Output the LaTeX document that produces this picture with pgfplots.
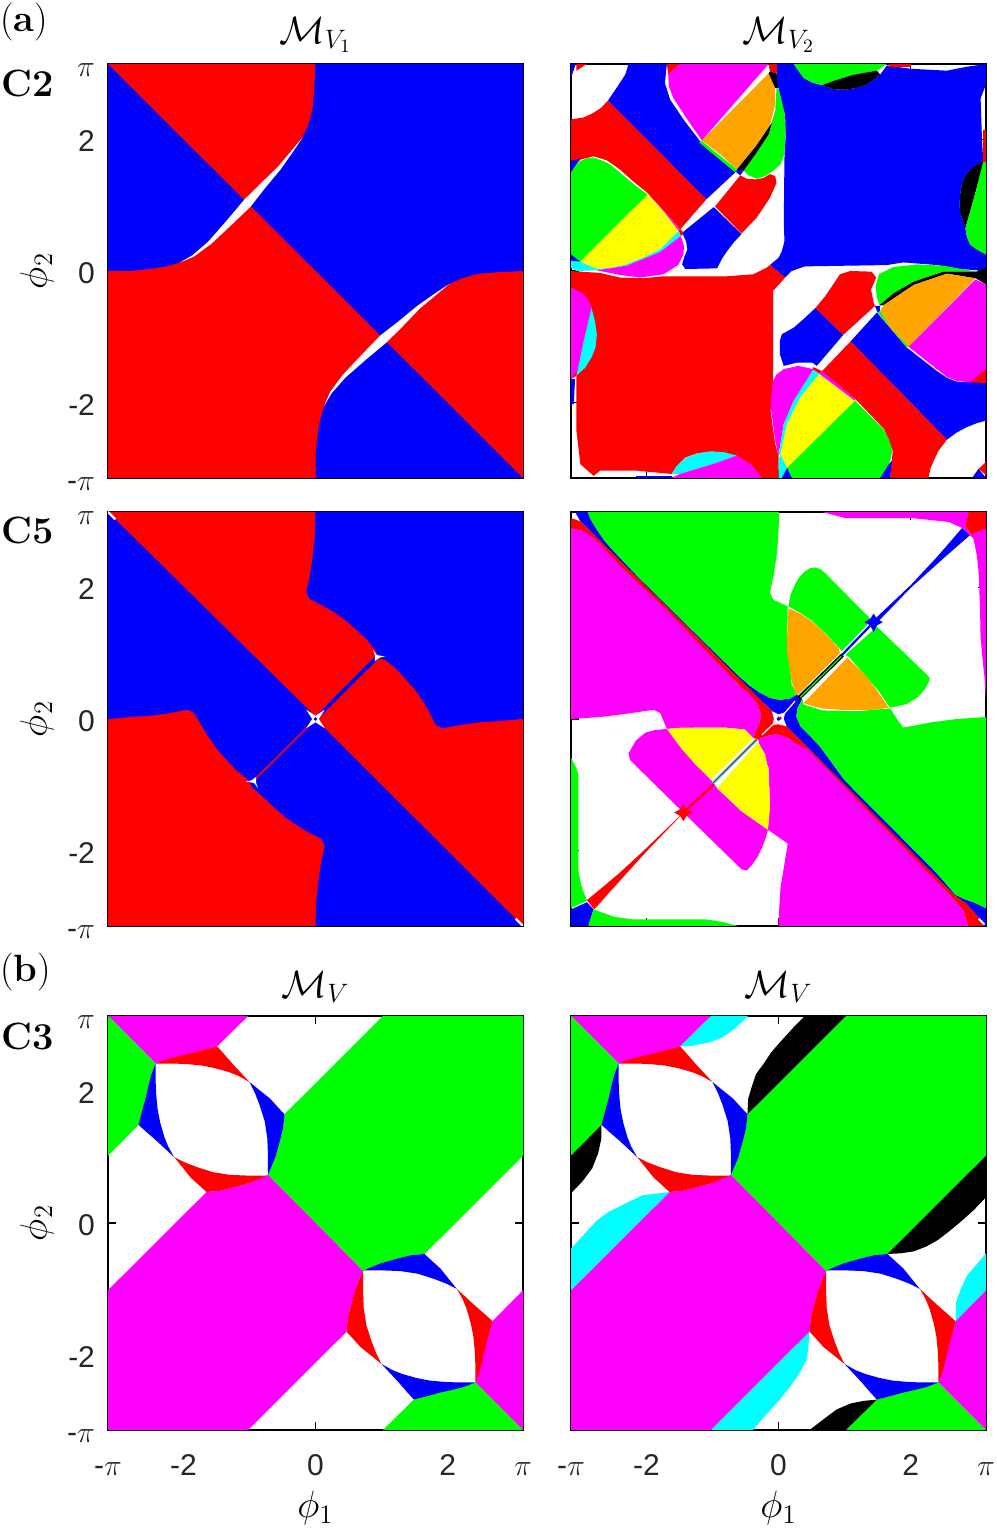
\RequirePackage{fix-cm}
\documentclass[border=0pt]{standalone}
\usepackage{fontspec}
\usepackage{pgfplots}
\pgfplotsset{compat=1.18}
\newfontfamily\sff{Liberation Sans}
\definecolor{mred}{HTML}{FF0000}
\definecolor{mblue}{HTML}{0000FF}
\definecolor{mgreen}{HTML}{00FF00}
\definecolor{mmag}{HTML}{FF00FF}
\definecolor{mcyan}{HTML}{00FFFF}
\definecolor{myel}{HTML}{FFFF00}
\definecolor{morg}{HTML}{FFA500}
\definecolor{mblk}{HTML}{000000}
\definecolor{mwht}{HTML}{FFFFFF}
\definecolor{tickgray}{HTML}{262626}
\newcommand{\tickfont}{\sff\fontsize{15}{18}\selectfont}
\newcommand{\labfont}{\fontsize{19}{22}\selectfont}
\pgfplotsset{
  reg/.style={fill=#1,draw=none,mark=none,forget plot},
  lin/.style 2 args={draw=#1,line width=#2,mark=none,forget plot},
  panel/.style={
    scale only axis,width=207.5pt,height=207pt,anchor=south west,
    xmin=-3.1416,xmax=3.1416,ymin=-3.1416,ymax=3.1416,
    xtick={-3.1416,-2,0,2,3.1416},ytick={-3.1416,-2,0,2,3.1416},
    xticklabels={},yticklabels={},
    tick align=inside,major tick length=4pt,
    tick style={black,line width=0.6pt},
    axis line style={black,line width=1.25pt},
    tick label style={font=\tickfont,text=tickgray},
    xticklabel style={yshift=-8.5pt},
    yticklabel style={xshift=-3pt,yshift=-1pt},
    every axis title/.style={at={(axis description cs:0.5,1.07)},anchor=center,font=\labfont},
    every axis x label/.style={at={(axis description cs:0.5,-0.188)},anchor=center,font=\labfont},
    every axis y label/.style={at={(axis description cs:-0.171,0.5)},anchor=center,rotate=90,font=\labfont},
  },
  xlab/.style={xticklabels={-$\pi$\vphantom{2},-2,0,2,$\pi$\vphantom{2}},xlabel={$\phi_1$}},
  ylab/.style={yticklabels={-$\pi$\vphantom{2},-2,0,2,$\pi$\vphantom{2}},ylabel={$\phi_2$}},
}
% regions shared by both C3 panels
\newcommand{\cthree}{
  \addplot[reg=mgreen] coordinates {(-.47,1.65)(1.02,3.1416)(3.1416,3.1416)(3.1416,1.02)(1.65,-.47)(1.44,-.49)(1.24,-.54)(.99,-.61)(.72,-.73)(-.72,.73)(-.61,.99)(-.54,1.24)(-.49,1.44)};
  \addplot[reg=mmag] coordinates {(-1.65,.47)(-3.1416,-1.02)(-3.1416,-3.1416)(-1.02,-3.1416)(.47,-1.65)(.49,-1.44)(.54,-1.24)(.61,-.99)(.72,-.73)(-.72,.73)(-.99,.61)(-1.24,.54)(-1.44,.49)};
  \addplot[reg=mmag] coordinates {(-3.1416,3.1416)(-1.02,3.1416)(-1.49,2.68)(-2.42,2.42)};
  \addplot[reg=mgreen] coordinates {(-3.1416,3.1416)(-2.42,2.42)(-2.68,1.49)(-3.1416,1.02)};
  \addplot[reg=mmag] coordinates {(3.1416,-3.1416)(3.1416,-1.02)(2.68,-1.49)(2.42,-2.42)};
  \addplot[reg=mgreen] coordinates {(3.1416,-3.1416)(1.02,-3.1416)(1.49,-2.68)(2.42,-2.42)};
  \addplot[reg=mred] coordinates {(-2.42,2.42)(-2.24,2.49)(-2.08,2.53)(-1.90,2.57)(-1.72,2.62)(-1.49,2.68)(-1.39,2.57)(-1.26,2.42)(-1.13,2.28)(-1.0,2.14)(-1.16,2.23)(-1.31,2.29)(-1.52,2.35)(-1.72,2.39)(-1.93,2.41)(-2.14,2.42)};
  \addplot[reg=mblue] coordinates {(-1.0,2.14)(-.84,2.01)(-.69,1.89)(-.59,1.78)(-.47,1.65)(-.49,1.44)(-.54,1.24)(-.61,.99)(-.72,.73)(-.72,1.04)(-.73,1.29)(-.77,1.55)(-.85,1.8)(-.92,1.98)};
  \addplot[reg=mblue] coordinates {(-2.42,2.42)(-2.49,2.24)(-2.53,2.08)(-2.57,1.90)(-2.62,1.72)(-2.68,1.49)(-2.57,1.39)(-2.42,1.26)(-2.28,1.13)(-2.14,1.0)(-2.23,1.16)(-2.29,1.31)(-2.35,1.52)(-2.39,1.72)(-2.41,1.93)(-2.42,2.14)};
  \addplot[reg=mred] coordinates {(-2.14,1.0)(-2.01,.84)(-1.89,.69)(-1.78,.59)(-1.65,.47)(-1.44,.49)(-1.24,.54)(-.99,.61)(-.73,.72)(-1.04,.72)(-1.29,.73)(-1.55,.77)(-1.8,.85)(-1.98,.92)};
  \addplot[reg=mblue] coordinates {(2.42,-2.42)(2.24,-2.49)(2.08,-2.53)(1.90,-2.57)(1.72,-2.62)(1.49,-2.68)(1.39,-2.57)(1.26,-2.42)(1.13,-2.28)(1.0,-2.14)(1.16,-2.23)(1.31,-2.29)(1.52,-2.35)(1.72,-2.39)(1.93,-2.41)(2.14,-2.42)};
  \addplot[reg=mred] coordinates {(1.0,-2.14)(.84,-2.01)(.69,-1.89)(.59,-1.78)(.47,-1.65)(.49,-1.44)(.54,-1.24)(.61,-.99)(.72,-.73)(.72,-1.04)(.73,-1.29)(.77,-1.55)(.85,-1.8)(.92,-1.98)};
  \addplot[reg=mred] coordinates {(2.42,-2.42)(2.49,-2.24)(2.53,-2.08)(2.57,-1.90)(2.62,-1.72)(2.68,-1.49)(2.57,-1.39)(2.42,-1.26)(2.28,-1.13)(2.14,-1.0)(2.23,-1.16)(2.29,-1.31)(2.35,-1.52)(2.39,-1.72)(2.41,-1.93)(2.42,-2.14)};
  \addplot[reg=mblue] coordinates {(2.14,-1.0)(2.01,-.84)(1.89,-.69)(1.78,-.59)(1.65,-.47)(1.44,-.49)(1.24,-.54)(.99,-.61)(.73,-.72)(1.04,-.72)(1.29,-.73)(1.55,-.77)(1.8,-.85)(1.98,-.92)};
}
\begin{document}
\begin{tikzpicture}
\path[use as bounding box] (0pt,0pt) rectangle (498.5pt,764pt);

% ---- C2, M_V1
\begin{axis}[panel,ylab,at={(54pt,525pt)},title={$\mathcal{M}_{V_1}$}]
\addplot[reg=mblue] coordinates {(-3.1416,-3.1416)(3.1416,-3.1416)(3.1416,3.1416)(-3.1416,3.1416)};
\addplot[reg=mred] coordinates {(-3.1416,3.1416)(0,3.1416)(-.02,2.75)(-.04,2.5)(-.07,2.35)(-.12,2.2)(-.2,2.02)(-.35,1.82)(-.55,1.56)(-.8,1.28)(-1.03,1.03)};
\addplot[reg=mred] coordinates {(3.1416,-3.1416)(3.1416,0)(2.75,-.02)(2.5,-.04)(2.35,-.07)(2.2,-.12)(2.02,-.2)(1.82,-.35)(1.56,-.55)(1.28,-.8)(1.03,-1.03)};
\addplot[reg=mred] coordinates {(-3.1416,-3.1416)(-3.1416,0)(-2.8,0)(-2.5,.03)(-2.25,.07)(-2.05,.13)(-1.85,.23)(-1.6,.43)(-1.3,.73)(-1.03,1.03)(1.03,-1.03)(.73,-1.3)(.43,-1.6)(.23,-1.85)(.13,-2.05)(.07,-2.25)(.03,-2.5)(0,-2.8)(0,-3.1416)};
\addplot[reg=mwht] coordinates {(-2.05,.13)(-1.86,.24)(-1.62,.45)(-1.34,.77)(-1.08,1.08)(-.84,1.32)(-.57,1.58)(-.36,1.83)(-.2,2.02)(-.34,1.81)(-.53,1.54)(-.77,1.25)(-.98,.98)(-1.27,.70)(-1.58,.41)(-1.84,.22)};
\addplot[reg=mwht] coordinates {(.13,-2.05)(.24,-1.86)(.45,-1.62)(.77,-1.34)(1.08,-1.08)(1.32,-.84)(1.58,-.57)(1.83,-.36)(2.02,-.2)(1.81,-.34)(1.54,-.53)(1.25,-.77)(.98,-.98)(.70,-1.27)(.41,-1.58)(.22,-1.84)};
\end{axis}

% ---- C2, M_V2
\begin{axis}[panel,at={(285.5pt,525pt)},title={$\mathcal{M}_{V_2}$}]
\addplot[reg=mblue] coordinates {(-3.1416,3.1416)(-3.07,3.1416)(-3.1416,2.93)};
\addplot[reg=mred] coordinates {(-3.06,3.1416)(-2.9,3.1416)(-3.06,3.04)};
\addplot[reg=mred] coordinates {(-3.1416,2.30)(-2.95,2.33)(-2.80,2.40)(-2.68,2.48)(-2.58,2.59)(-1.09,1.09)(-1.49,.63)(-1.64,.81)(-1.82,1.0)(-1.99,1.19)(-2.2,1.36)(-2.40,1.54)(-2.6,1.68)(-2.80,1.74)(-3.0,1.69)(-3.1416,1.54)};
\addplot[reg=mblue] coordinates {(-2.27,3.1416)(-1.69,3.1416)(-1.72,2.85)(-1.64,2.60)(-1.44,2.30)(-1.18,1.96)(-.63,1.52)(-1.09,1.09)(-2.58,2.59)(-2.45,2.78)(-2.32,2.98)};
\addplot[reg=mred] coordinates {(-1.69,3.1416)(-1.49,3.1416)(-1.67,2.98)};
\addplot[reg=mmag] coordinates {(-1.49,3.1416)(-.15,3.1416)(-1.16,1.98)(-1.40,2.33)(-1.59,2.62)(-1.66,2.80)(-1.67,2.98)};
\addplot[reg=morg] coordinates {(-1.16,1.98)(-.15,3.0)(-.05,2.78)(-.05,2.53)(-.13,2.2)(-.33,1.92)(-.63,1.54)(-.88,1.77)};
\addplot[reg=mgreen] coordinates {(-1.17,1.98)(-.63,1.54)(-.66,1.50)(-1.2,1.95)};
\addplot[reg=mred] coordinates {(-.15,3.1416)(0,3.1416)(-.03,3.0)(-.13,3.03)};
\addplot[reg=mblk] coordinates {(-.13,3.03)(-.03,3.0)(0,2.78)(-.05,2.78)(-.15,3.0)};
\addplot[reg=mgreen] coordinates {(-.03,2.78)(.03,2.73)(.09,2.42)(.11,2.17)(.10,1.97)(.09,1.77)(.03,1.62)(-.08,1.52)(-.2,1.44)(-.33,1.40)(-.45,1.45)(-.53,1.52)(-.35,1.77)(-.15,2.07)(-.05,2.42)};
\addplot[reg=mblk] coordinates {(-.63,1.54)(-.33,1.91)(-.10,2.25)(-.05,2.42)(-.15,2.07)(-.35,1.77)(-.53,1.52)};
\addplot[reg=mblue] coordinates {(-.63,1.54)(-.53,1.52)(-.58,1.45)(-.64,1.50)};
\addplot[reg=mred] coordinates {(-.96,.98)(-.58,1.45)(-.48,1.40)(-.35,1.39)(-.23,1.41)(-.13,1.47)(-.05,1.44)(-.03,1.34)(-.13,1.11)(-.33,.81)(-.56,.57)};
\addplot[reg=mblue] coordinates {(-.98,.97)(-.56,.56)(-.68,.43)(-.78,.30)(-.86,.18)(-.93,.04)(-1.41,.03)(-1.46,.10)(-1.43,.2)(-1.38,.33)(-1.40,.45)(-1.46,.58)};
\addplot[reg=mgreen] coordinates {(-3.1416,1.54)(-3.0,1.67)(-2.90,1.71)(-2.8,1.72)(-2.68,1.68)(-2.55,1.62)(-2.35,1.45)(-2.17,1.30)(-1.98,1.16)(-3.0,.14)(-3.1416,.25)};
\addplot[reg=mblue] coordinates {(-3.1416,1.67)(-3.0,1.71)(-3.1416,1.50)};
\addplot[reg=myel] coordinates {(-1.98,1.16)(-1.74,.91)(-1.51,.61)(-1.64,.48)(-1.79,.33)(-2.05,.2)(-2.30,.10)(-2.52,.05)(-2.75,.03)(-3.0,.14)};
\addplot[reg=mmag] coordinates {(-1.98,1.19)(-1.64,.81)(-1.49,.62)(-1.51,.61)(-1.74,.91)};
\addplot[reg=mred] coordinates {(-1.51,.61)(-1.49,.64)(-1.43,.57)(-1.48,.53)};
\addplot[reg=mcyan] coordinates {(-1.51,.61)(-1.48,.53)(-1.79,.29)(-2.30,.08)(-2.75,.01)(-3.06,0)(-3.1416,.05)(-3.1416,.16)(-3.0,.14)(-2.75,.03)(-2.52,.05)(-2.30,.10)(-2.05,.2)(-1.79,.33)(-1.64,.48)};
\addplot[reg=mblue] coordinates {(-3.1416,.16)(-3.1416,.25)(-3.0,.14)};
\addplot[reg=mmag] coordinates {(-1.48,.53)(-1.43,.38)(-1.44,.25)(-1.52,.09)(-1.74,-.05)(-2.10,-.10)(-2.40,-.06)(-2.75,.01)(-2.30,.08)(-1.79,.29)};
% big blue square
\addplot[reg=mblue] coordinates {(-.02,3.1416)(.23,3.1416)(.38,2.93)(.51,2.86)(.66,2.82)(.83,2.76)(1.01,2.75)(1.19,2.78)(1.34,2.83)(1.46,2.92)(1.54,2.98)(1.64,3.12)(1.99,3.07)(2.55,3.04)(2.85,3.10)(3.1416,3.1416)(3.1416,2.83)(3.06,2.62)(3.08,2.02)(3.1,1.66)(2.98,1.6)(2.9,1.54)(2.83,1.44)(2.78,1.33)(2.75,1.16)(2.74,1.01)(2.75,.88)(2.78,.80)(2.83,.65)(2.85,.53)(2.9,.40)(3.0,.33)(3.1416,.25)(3.1416,0)(2.75,.03)(2.4,.09)(1.89,.13)(1.64,.09)(.40,.07)(.2,0)(.10,-.10)(-.13,.09)(0,.2)(.05,.3)(.09,.45)(.08,.75)(.09,1.71)(.11,2.07)(.10,2.37)(.03,2.67)(-.02,2.85)};
\addplot[reg=mgreen] coordinates {(.23,3.1416)(1.64,3.1416)(1.49,3.04)(1.14,2.98)(.88,2.90)(.66,2.82)(.51,2.86)(.38,2.93)};
\addplot[reg=mblk] coordinates {(.66,2.82)(.88,2.9)(1.14,2.98)(1.49,3.04)(1.54,2.98)(1.46,2.92)(1.34,2.83)(1.19,2.78)(1.01,2.75)(.83,2.76)};
\addplot[reg=mred] coordinates {(1.67,3.1416)(2.0,3.1416)(2.0,3.1)(1.67,3.1)};
\addplot[reg=mblk] coordinates {(3.1,1.66)(2.98,1.6)(2.9,1.54)(2.83,1.44)(2.78,1.33)(2.75,1.16)(2.74,1.01)(2.75,.88)(2.78,.8)(2.83,.65)(2.96,1.11)(3.1,1.61)};
\addplot[reg=mgreen] coordinates {(3.1,1.66)(3.1416,1.66)(3.1416,.25)(3.0,.33)(2.9,.40)(2.85,.53)(2.83,.65)(2.96,1.11)};
\addplot[reg=mred] coordinates {(3.1,2.14)(3.1416,2.14)(3.1416,1.66)(3.1,1.66)};
% big red square
\addplot[reg=mred] coordinates {(-3.1416,0)(-2.7,-.03)(-2.40,-.10)(-2.05,-.11)(-1.74,-.08)(-.78,-.08)(-.38,-.05)(-.18,.05)(-.13,.09)(.10,-.10)(-.08,-.30)(-.08,-1.62)(-.12,-2.12)(-.05,-2.63)(0,-2.8)(0,-3.1416)(-.25,-3.1416)(-.43,-2.93)(-.61,-2.82)(-.83,-2.75)(-1.04,-2.74)(-1.24,-2.77)(-1.41,-2.83)(-1.54,-2.96)(-1.62,-3.08)(-2.15,-3.03)(-2.70,-3.03)(-2.80,-3.11)(-3.0,-2.93)(-3.06,-2.42)(-3.06,-1.59)(-3.1416,-1.64)};
\addplot[reg=mmag] coordinates {(-3.1416,-.25)(-2.95,-.35)(-2.88,-.44)(-2.83,-.56)(-2.95,-1.06)(-3.05,-1.52)(-3.1416,-1.64)};
\addplot[reg=mcyan] coordinates {(-2.83,-.56)(-2.78,-.76)(-2.75,-.96)(-2.77,-1.16)(-2.83,-1.31)(-2.93,-1.47)(-3.06,-1.59)(-2.95,-1.06)};
\addplot[reg=mblue] coordinates {(-3.1416,-1.64)(-3.08,-1.64)(-3.1,-2.02)(-3.1416,-2.02)};
\addplot[reg=mcyan] coordinates {(-1.62,-3.08)(-1.54,-2.96)(-1.41,-2.84)(-1.24,-2.77)(-1.04,-2.74)(-.83,-2.75)(-.63,-2.8)(-.93,-2.91)(-1.49,-3.08)};
\addplot[reg=mmag] coordinates {(-1.62,-3.1416)(-1.49,-3.08)(-.93,-2.91)(-.63,-2.8)(-.43,-2.93)(-.25,-3.1416)};
\addplot[reg=mblue] coordinates {(-2.15,-3.1416)(-1.62,-3.1416)(-1.62,-3.11)(-2.15,-3.11)};
% lower right quadrant
\addplot[reg=mblue] coordinates {(.05,-.96)(.23,-.86)(.38,-.73)(.56,-.56)(.98,-.97)(.58,-1.44)(.51,-1.39)(.28,-1.39)(.08,-1.44)(.02,-1.26)(.02,-1.06)};
\addplot[reg=mred] coordinates {(.56,-.56)(.71,-.38)(.83,-.20)(.93,-.05)(1.09,0)(1.41,-.01)(1.48,-.10)(1.40,-.28)(1.44,-.48)(1.46,-.53)(.98,-.97)};
\addplot[reg=mblue] coordinates {(1.46,-.53)(1.54,-.53)(1.54,-.61)(1.5,-.63)};
\addplot[reg=mblue] coordinates {(1.09,-1.07)(1.49,-.63)(1.94,-1.16)(2.40,-1.52)(2.55,-1.62)(2.70,-1.68)(3.1416,-1.69)(3.1416,-2.27)(3.0,-2.31)(2.85,-2.37)(2.7,-2.45)(2.55,-2.56)};
\addplot[reg=mred] coordinates {(.66,-1.52)(1.09,-1.07)(2.55,-2.56)(2.42,-2.73)(2.35,-2.88)(2.3,-3.0)(2.27,-3.1416)(1.69,-3.1416)(1.73,-2.73)(1.60,-2.40)(1.16,-1.94)(.68,-1.54)};
\addplot[reg=mred] coordinates {(.53,-1.46)(.66,-1.52)(.62,-1.56)(.51,-1.5)};
\addplot[reg=mgreen] coordinates {(1.47,-.23)(1.52,-.05)(1.74,.06)(2.10,.10)(2.50,.08)(3.0,-.01)(2.5,-.01)(2.05,-.16)(1.74,-.34)(1.53,-.52)(1.49,-.40)};
\addplot[reg=mblk] coordinates {(1.53,-.52)(1.74,-.34)(2.05,-.16)(2.5,-.01)(3.0,-.01)(3.1,0)(2.98,-.11)(2.55,-.04)(2.05,-.21)(1.59,-.52)};
\addplot[reg=morg] coordinates {(1.59,-.52)(2.05,-.21)(2.55,-.04)(2.98,-.11)(1.97,-1.15)(1.69,-.86)(1.54,-.61)};
\addplot[reg=mgreen] coordinates {(1.5,-.63)(1.54,-.61)(1.69,-.86)(1.97,-1.15)(1.94,-1.16)};
\addplot[reg=mmag] coordinates {(2.98,-.13)(3.1416,-.2)(3.1416,-1.52)(2.90,-1.69)(2.70,-1.67)(2.55,-1.61)(2.40,-1.49)(1.97,-1.15)};
\addplot[reg=mred] coordinates {(2.9,-1.69)(3.1416,-1.49)(3.1416,-1.7)};
\addplot[reg=mblk] coordinates {(3.0,-.01)(3.1416,.05)(3.1416,-.2)(2.98,-.11)};
\addplot[reg=mmag] coordinates {(.53,-1.49)(.30,-1.44)(.08,-1.49)(-.03,-1.57)(-.08,-1.67)(-.10,-1.79)(-.11,-1.92)(-.11,-2.12)(-.09,-2.27)(-.05,-2.58)(0,-2.8)(.08,-2.32)(.23,-1.97)};
\addplot[reg=mcyan] coordinates {(.53,-1.5)(.62,-1.56)(.33,-1.92)(.13,-2.32)(.03,-2.78)(0,-2.8)(.08,-2.32)(.23,-1.97)};
\addplot[reg=myel] coordinates {(.62,-1.56)(1.16,-1.97)(.13,-2.99)(.03,-2.78)(.13,-2.32)(.33,-1.92)};
\addplot[reg=mmag] coordinates {(.66,-1.52)(1.16,-1.94)(1.16,-1.97)(.62,-1.56)};
\addplot[reg=mgreen] coordinates {(1.16,-1.97)(1.59,-2.40)(1.67,-2.55)(1.72,-2.73)(1.70,-2.85)(1.67,-2.93)(1.54,-3.1416)(.20,-3.1416)(.13,-2.99)};
\addplot[reg=mblue] coordinates {(1.67,-2.93)(1.72,-2.88)(1.69,-3.1416)(1.54,-3.1416)};
\addplot[reg=mcyan] coordinates {(.03,-2.78)(.13,-2.99)(.05,-3.1416)(0,-3.1416)(0,-2.88)};
\addplot[reg=mblue] coordinates {(.13,-2.99)(.2,-3.1416)(.05,-3.1416)};
\addplot[reg=mred] coordinates {(3.03,-3.0)(3.1416,-2.9)(3.1416,-3.1)};
\addplot[reg=mblue] coordinates {(2.93,-3.1416)(3.03,-3.0)(3.1416,-3.1416)};
\end{axis}

% ---- C5, M_V1
\begin{axis}[panel,ylab,at={(54pt,301pt)}]
\addplot[reg=mblue] coordinates {(-3.1416,-3.1416)(3.1416,-3.1416)(3.1416,3.1416)(-3.1416,3.1416)};
\addplot[reg=mred] coordinates {(-3.1416,3.1416)(0,3.1416)(-.01,2.8)(-.04,2.49)(-.08,2.2)(-.14,1.93)(-.09,1.82)(.09,1.73)(.26,1.63)(.45,1.5)(.62,1.35)(.78,1.2)(.9,1.05)(.93,.98)(.04,.08)(0,.04)};
\addplot[reg=mred] coordinates {(3.1416,-3.1416)(3.1416,0)(2.8,-.03)(2.49,-.05)(2.2,-.09)(1.93,-.14)(1.82,-.09)(1.73,.09)(1.63,.26)(1.5,.45)(1.35,.62)(1.2,.78)(1.05,.9)(.95,.91)(.06,.02)(.04,-.04)};
\addplot[reg=mred] coordinates {(-3.1416,-3.1416)(-3.1416,0)(-2.8,.03)(-2.49,.05)(-2.2,.09)(-1.93,.14)(-1.84,.09)(-1.73,-.09)(-1.63,-.26)(-1.5,-.45)(-1.35,-.62)(-1.2,-.78)(-1.05,-.9)(-.95,-1.05)(-.78,-1.2)(-.62,-1.35)(-.45,-1.5)(-.26,-1.63)(-.09,-1.73)(.09,-1.82)(.14,-1.93)(.08,-2.2)(.04,-2.49)(.01,-2.8)(0,-3.1416)};
\addplot[lin={mred}{0.8pt}] coordinates {(-.97,-.97)(0,0)};
\addplot[reg=mwht] coordinates {(-.14,.14)(0,.05)(.14,.14)(.05,0)(.14,-.14)(0,-.05)(-.14,-.14)(-.05,0)};
\addplot[reg=mblue] coordinates {(-.03,0)(0,.03)(.03,0)(0,-.03)};
\addplot[reg=mwht] coordinates {(.87,1.05)(.93,.97)(1.05,.95)(.97,.93)(.90,.88)(.90,.97)};
\addplot[reg=mwht] coordinates {(-.87,-1.05)(-.93,-.97)(-1.05,-.95)(-.97,-.93)(-.90,-.88)(-.90,-.97)};
\addplot[lin={mwht}{1.2pt}] coordinates {(-3.1416,3.1416)(-3.03,3.03)};
\addplot[lin={mwht}{1.2pt}] coordinates {(3.1416,-3.1416)(3.03,-3.03)};
\end{axis}

% ---- C5, M_V2
\begin{axis}[panel,at={(285.5pt,301pt)}]
\addplot[reg=mblue] coordinates {(-3.08,3.1416)(-2.89,3.1416)(-2.84,3.02)(-2.76,2.89)(-2.64,2.71)(-2.49,2.54)(-2.13,2.16)(-.60,.65)(-.43,.50)(-.28,.40)(-.13,.32)(.02,.29)(.17,.31)(.28,.37)(.36,.30)(.29,.17)(.27,.04)(.33,-.11)(.48,-.26)(.63,-.42)(1.0,-.93)(2.34,-2.28)(2.5,-2.46)(2.67,-2.66)(2.80,-2.73)(2.95,-2.78)(3.1416,-2.87)(3.1416,-3.1416)(3.1,-3.1416)(3.03,-3.01)(2.85,-2.81)(2.65,-2.66)(.12,-.11)(-.10,.12)(-3.0,3.0)};
\addplot[reg=mgreen] coordinates {(-2.89,3.1416)(.01,3.1416)(0,2.85)(-.02,2.54)(-.07,2.2)(-.13,1.92)(-.08,1.81)(.03,1.76)(.14,1.71)(.13,1.23)(.2,.52)(.28,.37)(.17,.31)(.02,.29)(-.13,.32)(-.28,.40)(-.43,.50)(-.60,.65)(-2.13,2.16)(-2.49,2.54)(-2.64,2.71)(-2.76,2.89)(-2.84,3.02)};
\addplot[reg=morg] coordinates {(.15,1.68)(.33,1.60)(.51,1.48)(.71,1.29)(.91,1.08)(.93,1.0)(.30,.37)(.25,.39)(.19,.62)(.16,.82)(.13,1.03)(.13,1.23)};
\addplot[reg=mgreen] coordinates {(.15,1.71)(.18,1.88)(.25,2.04)(.32,2.16)(.40,2.24)(.48,2.29)(.56,2.30)(.64,2.27)(.71,2.21)(1.41,1.5)(.96,1.03)(.91,1.09)(.71,1.30)(.51,1.49)(.33,1.61)};
\addplot[reg=mgreen] coordinates {(1.49,1.40)(2.25,.67)(2.29,.62)(2.28,.57)(2.22,.46)(2.12,.34)(1.95,.23)(1.69,.17)(1.52,.42)(1.06,.95)(1.01,.97)};
\addplot[reg=morg] coordinates {(1.04,.93)(1.31,.67)(1.50,.42)(1.67,.17)(1.45,.14)(1.21,.14)(.93,.14)(.66,.16)(.50,.20)(.38,.24)};
\addplot[reg=mgreen] coordinates {(.36,.30)(.38,.22)(.66,.13)(1.21,.12)(1.69,.16)(1.82,-.04)(1.89,-.13)(2.32,-.05)(2.7,0)(3.1416,.03)(3.1416,-2.87)(2.95,-2.78)(2.80,-2.73)(2.67,-2.66)(2.5,-2.46)(2.34,-2.28)(1.0,-.93)(.63,-.42)(.48,-.26)(.33,-.11)(.27,.04)(.29,.17)};
\addplot[lin={mblk}{2pt}] coordinates {(.31,.32)(.97,.97)};
\addplot[lin={mgreen}{0.6pt}] coordinates {(.33,.33)(.95,.95)};
\addplot[lin={mblue}{1.1pt}] coordinates {(.96,.97)(1.44,1.47)};
\addplot[reg=mblue] coordinates {(1.44,1.60)(1.49,1.52)(1.58,1.47)(1.49,1.42)(1.44,1.32)(1.39,1.42)(1.30,1.47)(1.39,1.52)};
\addplot[reg=mblue] coordinates {(1.44,1.50)(2.0,2.03)(2.4,2.46)(2.6,2.69)(2.78,2.9)(2.90,2.79)(2.75,2.66)(2.5,2.44)(2.0,1.99)(1.5,1.47)};
\addplot[reg=mmag] coordinates {(.66,3.1416)(1.01,3.05)(2.02,3.05)(2.58,2.99)(2.80,2.89)(2.95,2.74)(3.0,2.5)(3.03,2.24)(3.05,1.7)(3.06,1.23)(3.09,.9)(3.12,.62)(3.1416,.3)(3.1416,2.89)(2.92,2.8)(2.83,2.93)(2.88,3.1416)};
\addplot[reg=mred] coordinates {(2.83,2.93)(2.88,3.1416)(3.1416,3.1416)(3.1416,2.89)(2.92,2.8)};
\addplot[reg=mmag] coordinates {(-3.1416,2.89)(-3.12,2.89)(-2.94,2.85)(-2.79,2.74)(-2.64,2.59)(-2.38,2.31)(-1.68,1.64)(-.58,.50)(-.43,.37)(-.31,.22)(-.26,.04)(-.33,-.16)(-.38,-.29)(-.51,-.16)(-.81,-.13)(-1.21,-.13)(-1.69,-.15)(-1.79,.09)(-1.89,.14)(-2.3,.08)(-2.7,.03)(-3.1416,0)};
\addplot[reg=mred] coordinates {(-3.1416,3.05)(-3.0,3.0)(-.10,.12)(.12,-.11)(2.65,-2.66)(2.85,-2.81)(3.03,-3.01)(3.1,-3.1416)(2.87,-3.1416)(2.80,-2.91)(2.65,-2.73)(2.34,-2.41)(.43,-.46)(.27,-.38)(.12,-.28)(-.03,-.23)(-.18,-.26)(-.31,-.31)(-.38,-.29)(-.33,-.16)(-.26,.04)(-.31,.22)(-.43,.37)(-.58,.50)(-1.68,1.64)(-2.38,2.31)(-2.64,2.59)(-2.79,2.74)(-2.94,2.85)(-3.12,2.89)(-3.1416,2.89)};
\addplot[reg=mmag] coordinates {(-.31,-.31)(-.27,-.45)(-.15,-.74)(-.13,-1.30)(-.16,-1.68)(.14,-1.89)(.09,-2.2)(.03,-2.56)(.01,-2.9)(0,-3.1416)(2.87,-3.1416)(2.80,-2.91)(2.65,-2.73)(2.34,-2.41)(.43,-.46)(.27,-.38)(.12,-.28)(-.03,-.23)(-.18,-.26)};
\addplot[reg=mmag] coordinates {(-1.69,-.15)(-1.88,-.17)(-2.02,-.21)(-2.16,-.33)(-2.27,-.52)(-2.25,-.62)(-1.44,-1.42)(-.56,-2.28)(-.48,-2.30)(-.40,-2.21)(-.31,-2.08)(-.25,-1.95)(-.19,-1.80)(-.16,-1.68)(-.56,-1.40)(-.93,-1.05)(-1.01,-.94)(-1.46,-.46)};
\addplot[reg=myel] coordinates {(-1.69,-.15)(-1.45,-.13)(-1.21,-.13)(-.81,-.13)(-.51,-.16)(-.38,-.29)(-1.02,-.92)(-1.25,-.70)(-1.46,-.46)};
\addplot[reg=myel] coordinates {(-.31,-.35)(-.2,-.54)(-.15,-.8)(-.14,-1.05)(-.13,-1.35)(-.16,-1.68)(-.35,-1.55)(-.56,-1.40)(-.93,-1.05)};
\addplot[lin={mcyan}{1.4pt}] coordinates {(-1.0,-.98)(-.33,-.31)};
\addplot[lin={mred}{0.5pt}] coordinates {(-1.0,-.98)(-.33,-.31)};
\addplot[lin={mred}{1.1pt}] coordinates {(-.98,-.99)(-1.44,-1.42)};
\addplot[reg=mred] coordinates {(-1.44,-1.29)(-1.39,-1.37)(-1.30,-1.42)(-1.39,-1.47)(-1.44,-1.55)(-1.49,-1.47)(-1.58,-1.42)(-1.49,-1.37)};
\addplot[reg=mred] coordinates {(-1.44,-1.42)(-2.0,-1.96)(-2.4,-2.33)(-2.6,-2.5)(-2.9,-2.75)(-2.79,-2.89)(-2.55,-2.62)(-2.0,-2.01)(-1.5,-1.49)};
\addplot[reg=mblue] coordinates {(-3.1416,-2.89)(-2.90,-2.78)(-2.8,-2.89)(-2.88,-3.1416)(-3.1416,-3.1416)};
\addplot[reg=mgreen] coordinates {(-3.1416,-.59)(-3.08,-.7)(-3.03,-.84)(-3.03,-2.31)(-2.98,-2.55)(-2.9,-2.76)(-3.1416,-2.87)};
\addplot[reg=mgreen] coordinates {(-2.80,-2.89)(-2.5,-3.0)(-2.22,-3.04)(-1.11,-3.04)(-.85,-3.08)(-.61,-3.1416)(-2.88,-3.1416)};
\addplot[lin={mwht}{0.6pt}] coordinates {(-.25,-.24)(0,0)};
\addplot[lin={mwht}{0.6pt}] coordinates {(.05,.04)(.25,.27)};
\addplot[lin={mwht}{0.9pt}] coordinates {(-3.12,3.12)(-3.03,3.03)};
\addplot[lin={mwht}{0.9pt}] coordinates {(3.03,-3.03)(3.12,-3.12)};
\addplot[reg=mwht] coordinates {(-.10,.12)(0,.07)(.10,.10)(.08,0)(.12,-.11)(0,-.08)(-.09,-.09)(-.07,0)};
\addplot[reg=mblue] coordinates {(-.03,0)(0,.04)(.04,0)(0,-.03)};
\addplot[reg=mred] coordinates {(.01,.01)(.03,.04)(.05,.01)(.03,-.01)};
\end{axis}

% ---- C3, M_V (left)
\begin{axis}[panel,xlab,ylab,at={(54pt,49pt)},title={$\mathcal{M}_{V}$}]
\cthree
\end{axis}

% ---- C3, M_V (right)
\begin{axis}[panel,xlab,at={(285.5pt,49pt)},title={$\mathcal{M}_{V}$}]
\cthree
\addplot[reg=mcyan] coordinates {(-1.02,3.1416)(-.46,3.1416)(-.64,2.97)(-.84,2.82)(-1.05,2.74)(-1.30,2.69)(-1.49,2.68)};
\addplot[reg=mblk] coordinates {(.4,3.1416)(1.02,3.1416)(-.47,1.65)(-.46,1.88)(-.41,2.05)(-.34,2.26)(-.23,2.41)(-.11,2.59)(.02,2.74)(.22,2.96)};
\addplot[reg=mblk] coordinates {(-2.68,1.49)(-3.1416,1.02)(-3.1416,.45)(-2.97,.63)(-2.82,.83)(-2.73,1.06)(-2.68,1.29)};
\addplot[reg=mcyan] coordinates {(-1.65,.47)(-3.1416,-1.02)(-3.1416,-.39)(-2.95,-.18)(-2.77,.02)(-2.57,.17)(-2.37,.27)(-2.06,.42)};
\addplot[reg=mblk] coordinates {(3.1416,1.02)(3.1416,.39)(2.96,.2)(2.76,.02)(2.58,-.13)(2.41,-.26)(2.23,-.36)(2.05,-.43)(1.85,-.46)(1.65,-.47)};
\addplot[reg=mcyan] coordinates {(3.1416,-.46)(3.1416,-1.02)(2.68,-1.49)(2.69,-1.2)(2.76,-1.0)(2.86,-.79)(2.99,-.64)};
\addplot[reg=mcyan] coordinates {(.47,-1.65)(-1.02,-3.1416)(-.39,-3.1416)(-.18,-2.9)(.02,-2.68)(.2,-2.45)(.32,-2.27)(.42,-2.09)(.45,-1.91)};
\addplot[reg=mblk] coordinates {(.47,-3.1416)(1.02,-3.1416)(1.49,-2.68)(1.29,-2.7)(1.09,-2.74)(.88,-2.83)(.68,-2.98)};
\end{axis}

% panel tags
\node[anchor=west,inner sep=0pt,font=\labfont] at (0pt,753pt) {(\textbf{a})};
\node[anchor=west,inner sep=0pt,font=\labfont] at (0.5pt,722.5pt) {\textbf{C2}};
\node[anchor=west,inner sep=0pt,font=\labfont] at (0.5pt,499pt) {\textbf{C5}};
\node[anchor=west,inner sep=0pt,font=\labfont] at (0pt,278pt) {(\textbf{b})};
\node[anchor=west,inner sep=0pt,font=\labfont] at (0.5pt,246pt) {\textbf{C3}};
\end{tikzpicture}
\end{document}
